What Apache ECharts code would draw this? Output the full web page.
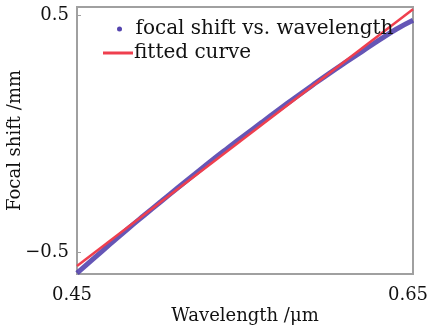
<!DOCTYPE html>
<html>
<head>
<meta charset="utf-8">
<script src="https://cdn.jsdelivr.net/npm/echarts@6/dist/echarts.min.js"></script>
<style>html,body{margin:0;padding:0;background:#fff}#c{width:429px;height:326px}</style>
</head>
<body>
<div id="c"></div>
<script>
// measured focal shift (mm) vs wavelength (um)
var wavelength = [0.45,0.46,0.47,0.48,0.49,0.50,0.51,0.52,0.53,0.54,0.55,0.56,0.57,0.58,0.59,0.60,0.61,0.62,0.63,0.64,0.65];
var focalShift = [-0.589,-0.527,-0.465,-0.404,-0.345,-0.287,-0.229,-0.172,-0.115,-0.060,-0.006,0.047,0.100,0.152,0.203,0.253,0.301,0.348,0.395,0.440,0.478];
// fitted straight line (endpoints)
var fitX = [0.45, 0.65];
var fitY = [-0.559, 0.525];
var xTicks = [0.45, 0.65];
var yTicks = [-0.5, 0.5];
var seriesNames = ['focal shift vs. wavelength', 'fitted curve'];

var FONT = 'DejaVu Serif';
var chart = echarts.init(document.getElementById('c'));
chart.setOption({
  animation: false,
  grid: {left: 77, right: 16, top: 7, bottom: 52, outerBoundsMode: 'none', containLabel: false,
    show: true, borderColor: '#a0a0a0', borderWidth: 2},
  legend: [{
    data: [seriesNames[0]], left: 112, top: 14, icon: 'circle', itemWidth: 30, itemHeight: 5, itemGap: 0,
    textStyle: {fontFamily: FONT, fontSize: 20, color: '#111', padding: [0,0,0,-4]}
  }, {
    data: [seriesNames[1]], left: 98, top: 38, icon: 'rect', itemWidth: 30, itemHeight: 3, itemGap: 0,
    textStyle: {fontFamily: FONT, fontSize: 20, color: '#111', padding: [0,0,0,-4]}
  }],
  xAxis: {
    type: 'value', min: 0.45, max: 0.65,
    name: 'Wavelength /\u03bcm', nameLocation: 'middle', nameGap: 33, nameMoveOverlap: false,
    nameTextStyle: {fontFamily: FONT, fontSize: 18, color: '#111'},
    axisLine: {show: true, onZero: false, lineStyle: {color: '#a0a0a0', width: 2}},
    axisTick: {show: true, inside: true, length: 4, customValues: xTicks, lineStyle: {color: '#a0a0a0'}},
    axisLabel: {customValues: xTicks, fontFamily: FONT, fontSize: 18, color: '#111', margin: 12,
      padding: [0, 10, 0, 0],
      formatter: function(v){return v.toFixed(2);}},
    splitLine: {show: false}
  },
  yAxis: {
    type: 'value', min: -0.593, max: 0.534,
    name: 'Focal shift /mm', nameLocation: 'middle', nameGap: 53, nameMoveOverlap: false,
    nameTextStyle: {fontFamily: FONT, fontSize: 18, color: '#111'},
    axisLine: {show: true, onZero: false, lineStyle: {color: '#a0a0a0', width: 2}},
    axisTick: {show: true, inside: true, length: 4, customValues: yTicks, lineStyle: {color: '#a0a0a0'}},
    axisLabel: {customValues: yTicks, fontFamily: FONT, fontSize: 18, color: '#111', margin: 8,
      formatter: function(v){return v < 0 ? '\u2212' + Math.abs(v).toFixed(1) : v.toFixed(1);}},
    splitLine: {show: false}
  },
  series: [{
    name: seriesNames[0], type: 'line', showSymbol: false, smooth: true,
    data: wavelength.map(function(x,i){return [x, focalShift[i]];}),
    itemStyle: {color: '#5444ae'},
    lineStyle: {color: '#5444ae', width: 5, opacity: 0.9}
  }, {
    name: seriesNames[1], type: 'line', showSymbol: false,
    data: fitX.map(function(x,i){return [x, fitY[i]];}),
    itemStyle: {color: '#ef3f4e'},
    lineStyle: {color: '#ef3f4e', width: 2.5}
  }]
});
</script>
</body>
</html>
